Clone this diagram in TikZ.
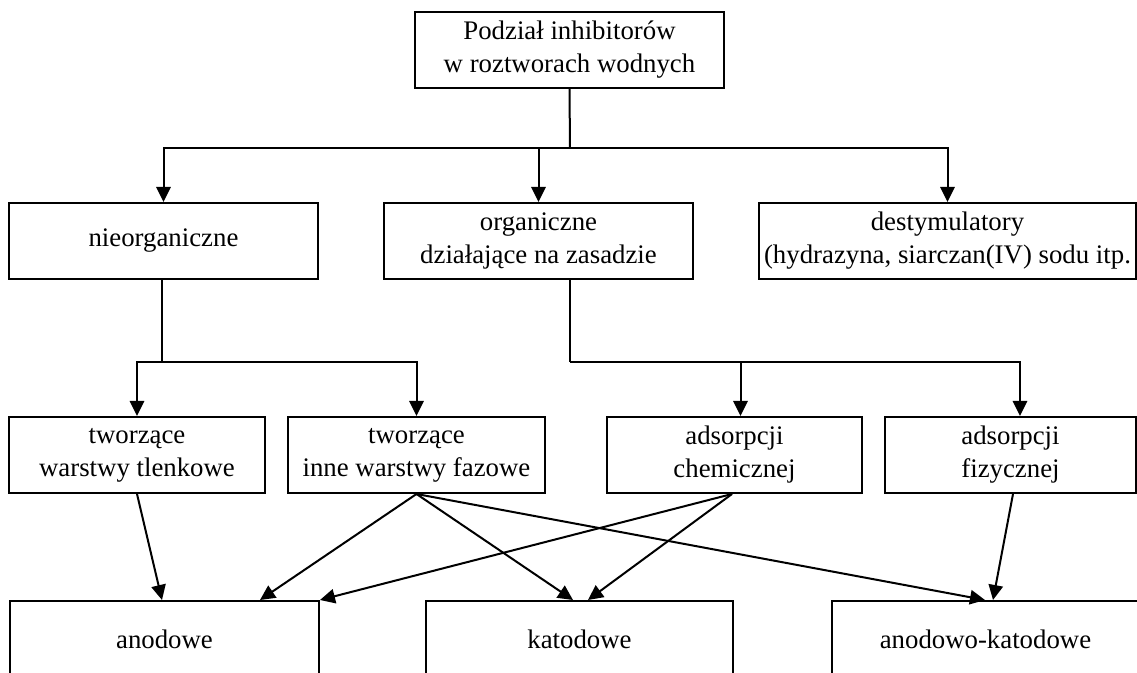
\documentclass[tikz,border=0pt]{standalone}
\usepackage{fontspec}
\setmainfont{Liberation Serif}
\usetikzlibrary{arrows.meta}
\begin{document}
\begin{tikzpicture}[x=0.5pt,y=-0.5pt,
  box/.style={draw,line width=1pt,inner sep=0pt,minimum height=38pt,align=center,
    font=\fontsize{13.4}{16.5}\selectfont},
  link/.style={line width=1pt},
  arr/.style={line width=1pt,-{Triangle[length=7.5pt,width=7.2pt]}}]
\useasboundingbox (0,0) rectangle (1137,673);
\clip (0,0) rectangle (1137,673);
% boxes
\node[box,minimum width=154.5pt] (top) at (569.5,50) {Podział inhibitorów\\w roztworach wodnych};
\node[box,minimum width=154.5pt] (nieorg) at (163.5,241) {nieorganiczne};
\node[box,minimum width=154.5pt] (org) at (538.5,241) {organiczne\\działające na zasadzie};
\node[box,minimum width=188.5pt] (destym) at (947.5,241) {destymulatory\\(hydrazyna, siarczan(IV) sodu itp.};
\node[box,minimum width=128pt] (tlenk) at (137,455) {tworzące\\warstwy tlenkowe};
\node[box,minimum width=128.5pt] (inne) at (416.5,455) {tworzące\\inne warstwy fazowe};
\node[box,minimum width=127.5pt] (chem) at (734.5,455) {adsorpcji\\chemicznej};
\node[box,minimum width=125.5pt] (fiz) at (1010.5,455) {adsorpcji\\fizycznej};
\node[box,minimum width=154.5pt] (anod) at (164.5,639) {anodowe};
\node[box,minimum width=153.5pt] (katod) at (579.5,639) {katodowe};
\node[box,minimum width=153.5pt] (ak) at (985.5,639) {anodowo-katodowe};
% hubs
\coordinate (h1) at (570,148);
\coordinate (h2) at (570,362);
\coordinate (h3) at (162,362);
% top level
\draw[link] (top.south) -- (h1);
\draw[arr] (h1) -| (nieorg.north);
\draw[arr] (h1) -| (destym.north);
\draw[arr] (org.north |- h1) -- (org.north);
% nieorganiczne branch
\draw[link] (h3 |- nieorg.south) -- (h3);
\draw[arr] (h3) -| (tlenk.north);
\draw[arr] (h3) -| (inne.north);
% organiczne branch
\draw[link] (h2 |- org.south) -- (h2);
\draw[arr] (h2) -| ([xshift=3pt]chem.north);
\draw[arr] (h2) -| ([xshift=4.75pt]fiz.north);
% bottom level
\draw[arr] (tlenk.south) -- ([xshift=-1.25pt]anod.north);
\draw[arr] (inne.south) -- ([xshift=47.75pt]anod.north);
\draw[arr] (inne.south) -- ([xshift=-3.25pt]katod.north);
\draw[arr] (inne.south) -- ([xshift=-0.25pt]ak.north);
\draw[arr] ([xshift=-1.25pt]chem.south) -- (anod.north east);
\draw[arr] ([xshift=-1.25pt]chem.south) -- ([xshift=4.25pt]katod.north);
\draw[arr] ([xshift=1.25pt]fiz.south) -- ([xshift=3.75pt]ak.north);
\end{tikzpicture}
\end{document}
